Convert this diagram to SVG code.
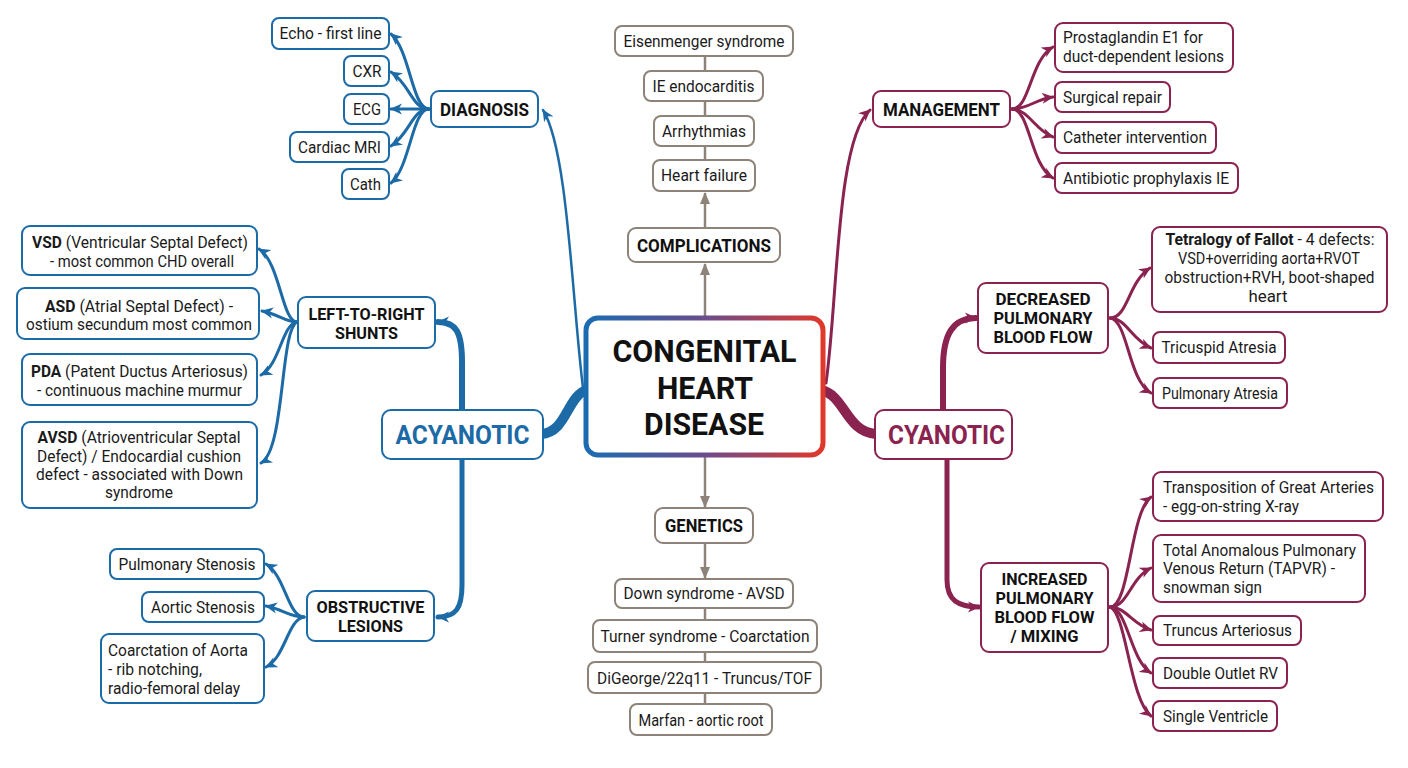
<svg xmlns="http://www.w3.org/2000/svg" width="1408" height="768" viewBox="0 0 1408 768">
<defs>
<linearGradient id="cg" x1="0" y1="0" x2="1" y2="0">
<stop offset="0" stop-color="#1b6cb2"/>
<stop offset="0.5" stop-color="#6a4c8c"/>
<stop offset="1" stop-color="#e0382a"/>
</linearGradient>
<marker id="ab" viewBox="0 0 12 12" markerWidth="12" markerHeight="12" refX="11" refY="6" orient="auto" markerUnits="userSpaceOnUse"><path d="M0,0.5 L12,6 L0,11.5 L3.5,6 z" fill="#1c6aa6"/></marker>
<marker id="am" viewBox="0 0 12 12" markerWidth="12" markerHeight="12" refX="11" refY="6" orient="auto" markerUnits="userSpaceOnUse"><path d="M0,0.5 L12,6 L0,11.5 L3.5,6 z" fill="#8a2350"/></marker>
<marker id="ag" viewBox="0 0 12 12" markerWidth="12" markerHeight="12" refX="11" refY="6" orient="auto" markerUnits="userSpaceOnUse"><path d="M0,1 L12,6 L0,11 z" fill="#8e8378"/></marker>
</defs>
<style>
text{font-family:Roboto,"Liberation Sans",sans-serif;font-size:16px;fill:#1a1a1a}
.c{text-anchor:middle}
.h{font-weight:700;font-size:18px;fill:#111}
.h2{font-weight:700;font-size:17px;fill:#111}
.bd{font-weight:700}
.big{font-weight:700;font-size:26px}
.ctr{font-weight:700;font-size:32px;fill:#111;text-anchor:middle}
.nb{fill:#fff;stroke:#1c6aa6;stroke-width:2}
.nm{fill:#fff;stroke:#8a2350;stroke-width:2}
.ng{fill:#fff;stroke:#8e8378;stroke-width:2}
.lb{fill:none;stroke:#1c6aa6;stroke-linecap:round}
.lm{fill:none;stroke:#8a2350;stroke-linecap:round}
.lg{fill:none;stroke:#8e8378;stroke-width:2.5}
</style>
<rect width="1408" height="768" fill="#fff"/>

<g id="connectors">
<!-- blue -->
<path class="lb" stroke-width="2.5" d="M583,388 C 572,300 568,150 543,110" marker-end="url(#ab)"/>
<path class="lb" stroke-width="10" d="M589,389 C 566,395 568,432 541,434"/>
<path class="lb" stroke-width="6" d="M462,412 L462,362 C 462,332 456,322 438,322" marker-end="url(#ab)"/>
<path class="lb" stroke-width="5" d="M462,458 L462,585 C 462,608 456,617 438,617" marker-end="url(#ab)"/>
<path class="lb" stroke-width="3" d="M429,109 C 412,109 410,50 391,34" marker-end="url(#ab)"/>
<path class="lb" stroke-width="3" d="M429,109 C 412,109 410,84 391,72" marker-end="url(#ab)"/>
<path class="lb" stroke-width="3" d="M429,109 L391,109" marker-end="url(#ab)"/>
<path class="lb" stroke-width="3" d="M429,109 C 412,109 410,134 391,146" marker-end="url(#ab)"/>
<path class="lb" stroke-width="3" d="M429,109 C 412,109 410,168 391,183" marker-end="url(#ab)"/>
<path class="lb" stroke-width="3" d="M297,322 C 282,322 280,262 259,249" marker-end="url(#ab)"/>
<path class="lb" stroke-width="3" d="M297,322 C 285,322 278,314 262,311" marker-end="url(#ab)"/>
<path class="lb" stroke-width="3" d="M297,322 C 282,324 280,365 261,375" marker-end="url(#ab)"/>
<path class="lb" stroke-width="3" d="M297,322 C 280,330 285,450 261,463" marker-end="url(#ab)"/>
<path class="lb" stroke-width="3" d="M304,617 C 288,617 285,575 266,564" marker-end="url(#ab)"/>
<path class="lb" stroke-width="3" d="M304,617 C 290,617 282,609 266,606" marker-end="url(#ab)"/>
<path class="lb" stroke-width="3" d="M304,617 C 288,619 285,658 266,667" marker-end="url(#ab)"/>
<!-- maroon -->
<path class="lm" stroke-width="3" d="M826,383 C 838,300 836,140 870,110" marker-end="url(#am)"/>
<path class="lm" stroke-width="10" d="M821,390 C 845,395 846,432 876,434"/>
<path class="lm" stroke-width="6" d="M943,412 L943,368 C 943,334 953,318 976,318" marker-end="url(#am)"/>
<path class="lm" stroke-width="5" d="M947,458 L947,580 C 947,600 958,607 979,607" marker-end="url(#am)"/>
<path class="lm" stroke-width="3" d="M1012,109 C 1030,109 1030,60 1053,47" marker-end="url(#am)"/>
<path class="lm" stroke-width="3" d="M1012,109 C 1028,109 1036,99 1053,97" marker-end="url(#am)"/>
<path class="lm" stroke-width="3" d="M1012,109 C 1028,109 1036,131 1053,137" marker-end="url(#am)"/>
<path class="lm" stroke-width="3" d="M1012,109 C 1030,109 1030,165 1053,178" marker-end="url(#am)"/>
<path class="lm" stroke-width="3" d="M1110,318 C 1128,318 1128,282 1150,268" marker-end="url(#am)"/>
<path class="lm" stroke-width="3" d="M1110,318 C 1126,318 1132,340 1151,348" marker-end="url(#am)"/>
<path class="lm" stroke-width="3" d="M1110,318 C 1128,320 1128,380 1151,393" marker-end="url(#am)"/>
<path class="lm" stroke-width="3" d="M1110,607 C 1130,607 1130,512 1151,497" marker-end="url(#am)"/>
<path class="lm" stroke-width="3" d="M1110,607 C 1128,607 1130,578 1151,568" marker-end="url(#am)"/>
<path class="lm" stroke-width="3" d="M1110,607 C 1126,607 1132,624 1151,630" marker-end="url(#am)"/>
<path class="lm" stroke-width="3" d="M1110,607 C 1128,609 1130,660 1151,673" marker-end="url(#am)"/>
<path class="lm" stroke-width="3" d="M1110,607 C 1126,612 1130,700 1151,716" marker-end="url(#am)"/>
<!-- gray -->
<path class="lg" d="M705,317 L705,264" marker-end="url(#ag)"/>
<path class="lg" d="M705,228 L705,193" marker-end="url(#ag)"/>
<path class="lg" d="M705,56 L705,71 M705,101 L705,116 M705,146 L705,160"/>
<path class="lg" d="M705,456 L705,507" marker-end="url(#ag)"/>
<path class="lg" d="M705,543 L705,578" marker-end="url(#ag)"/>
<path class="lg" d="M705,608 L705,620 M705,652 L705,662 M705,693 L705,704"/>
</g>

<g id="center">
<rect x="586" y="318" width="237" height="137" rx="12" fill="#fff" stroke="url(#cg)" stroke-width="5"/>
<text class="ctr" x="704.5" y="362" textLength="184" lengthAdjust="spacingAndGlyphs">CONGENITAL</text>
<text class="ctr" x="705" y="399" textLength="96" lengthAdjust="spacingAndGlyphs">HEART</text>
<text class="ctr" x="704" y="435" textLength="120" lengthAdjust="spacingAndGlyphs">DISEASE</text>
</g>

<g id="acyanotic">
<rect class="nb" x="382" y="410" width="161" height="49" rx="9"/>
<text class="c big" x="462.5" y="444" style="fill:#1c6aa6" textLength="134" lengthAdjust="spacingAndGlyphs">ACYANOTIC</text>
</g>
<g id="diagnosis">
<rect class="nb" x="431" y="91" width="107" height="36" rx="8"/>
<text class="c h" x="484.5" y="116" textLength="89" lengthAdjust="spacingAndGlyphs">DIAGNOSIS</text>
</g>
<g id="echo"><rect class="nb" x="272" y="18" width="117" height="31" rx="7"/><text class="c" x="330.5" y="39" textLength="102" lengthAdjust="spacingAndGlyphs">Echo - first line</text></g>
<g id="cxr"><rect class="nb" x="344" y="56" width="45" height="30" rx="7"/><text class="c" x="367" y="76.5" textLength="29" lengthAdjust="spacingAndGlyphs">CXR</text></g>
<g id="ecg"><rect class="nb" x="344" y="94" width="45" height="30" rx="7"/><text class="c" x="367" y="114.5" textLength="28" lengthAdjust="spacingAndGlyphs">ECG</text></g>
<g id="mri"><rect class="nb" x="290" y="132" width="99" height="30" rx="7"/><text class="c" x="339.5" y="152.5" textLength="83" lengthAdjust="spacingAndGlyphs">Cardiac MRI</text></g>
<g id="cath"><rect class="nb" x="342" y="169" width="47" height="30" rx="7"/><text class="c" x="365.5" y="189.5" textLength="31" lengthAdjust="spacingAndGlyphs">Cath</text></g>

<g id="ltr">
<rect class="nb" x="298" y="297" width="137" height="51" rx="8"/>
<text class="c h2" x="366.5" y="320" textLength="116" lengthAdjust="spacingAndGlyphs">LEFT-TO-RIGHT</text>
<text class="c h2" x="366.5" y="339" textLength="63" lengthAdjust="spacingAndGlyphs">SHUNTS</text>
</g>
<g id="vsd"><rect class="nb" x="22" y="226" width="235" height="49" rx="8"/>
<text class="c" x="140" y="248" textLength="216" lengthAdjust="spacingAndGlyphs"><tspan class="bd">VSD</tspan> (Ventricular Septal Defect)</text>
<text class="c" x="142" y="267" textLength="184" lengthAdjust="spacingAndGlyphs">- most common CHD overall</text></g>
<g id="asd"><rect class="nb" x="17" y="288" width="242" height="51" rx="8"/>
<text class="c" x="139" y="312" textLength="188" lengthAdjust="spacingAndGlyphs"><tspan class="bd">ASD</tspan> (Atrial Septal Defect) -</text>
<text class="c" x="139" y="330" textLength="226" lengthAdjust="spacingAndGlyphs">ostium secundum most common</text></g>
<g id="pda"><rect class="nb" x="22" y="354" width="235" height="51" rx="8"/>
<text class="c" x="139.5" y="377" textLength="217" lengthAdjust="spacingAndGlyphs"><tspan class="bd">PDA</tspan> (Patent Ductus Arteriosus)</text>
<text class="c" x="139.5" y="396" textLength="205" lengthAdjust="spacingAndGlyphs">- continuous machine murmur</text></g>
<g id="avsd"><rect class="nb" x="22" y="422" width="235" height="86" rx="8"/>
<text class="c" x="139" y="443" textLength="203" lengthAdjust="spacingAndGlyphs"><tspan class="bd">AVSD</tspan> (Atrioventricular Septal</text>
<text class="c" x="139" y="462" textLength="204" lengthAdjust="spacingAndGlyphs">Defect) / Endocardial cushion</text>
<text class="c" x="139.5" y="480" textLength="207" lengthAdjust="spacingAndGlyphs">defect - associated with Down</text>
<text class="c" x="139" y="498" textLength="68" lengthAdjust="spacingAndGlyphs">syndrome</text></g>

<g id="obstructive">
<rect class="nb" x="307" y="591" width="127" height="50" rx="8"/>
<text class="c h2" x="370.5" y="613" textLength="108" lengthAdjust="spacingAndGlyphs">OBSTRUCTIVE</text>
<text class="c h2" x="370.5" y="632" textLength="65" lengthAdjust="spacingAndGlyphs">LESIONS</text>
</g>
<g id="ps"><rect class="nb" x="110" y="549" width="154" height="30" rx="7"/><text class="c" x="187" y="569.5" textLength="137" lengthAdjust="spacingAndGlyphs">Pulmonary Stenosis</text></g>
<g id="as"><rect class="nb" x="142" y="592" width="122" height="30" rx="7"/><text class="c" x="203" y="612.5" textLength="104" lengthAdjust="spacingAndGlyphs">Aortic Stenosis</text></g>
<g id="coarc"><rect class="nb" x="101" y="634" width="163" height="69" rx="8"/>
<text x="108" y="656" textLength="140" lengthAdjust="spacingAndGlyphs">Coarctation of Aorta</text>
<text x="108" y="675" textLength="94" lengthAdjust="spacingAndGlyphs">- rib notching,</text>
<text x="108" y="694" textLength="132" lengthAdjust="spacingAndGlyphs">radio-femoral delay</text></g>

<g id="complications"><rect class="ng" x="628" y="228" width="152" height="34" rx="8"/><text class="c h" x="704" y="251.5" textLength="134" lengthAdjust="spacingAndGlyphs">COMPLICATIONS</text></g>
<g id="eisenmenger"><rect class="ng" x="615" y="26" width="178" height="30" rx="7"/><text class="c" x="704" y="46.5" textLength="161" lengthAdjust="spacingAndGlyphs">Eisenmenger syndrome</text></g>
<g id="ie"><rect class="ng" x="644" y="71" width="119" height="30" rx="7"/><text class="c" x="703.5" y="91.5" textLength="102" lengthAdjust="spacingAndGlyphs">IE endocarditis</text></g>
<g id="arrhythmias"><rect class="ng" x="654" y="116" width="100" height="30" rx="7"/><text class="c" x="704" y="136.5" textLength="84" lengthAdjust="spacingAndGlyphs">Arrhythmias</text></g>
<g id="hf"><rect class="ng" x="653" y="160" width="102" height="31" rx="7"/><text class="c" x="704" y="181" textLength="86" lengthAdjust="spacingAndGlyphs">Heart failure</text></g>

<g id="genetics"><rect class="ng" x="655" y="508" width="98" height="35" rx="8"/><text class="c h" x="704" y="532" textLength="78" lengthAdjust="spacingAndGlyphs">GENETICS</text></g>
<g id="down"><rect class="ng" x="615" y="579" width="178" height="29" rx="7"/><text class="c" x="704" y="599" textLength="161" lengthAdjust="spacingAndGlyphs">Down syndrome - AVSD</text></g>
<g id="turner"><rect class="ng" x="593" y="620" width="224" height="32" rx="7"/><text class="c" x="705" y="641.5" textLength="209" lengthAdjust="spacingAndGlyphs">Turner syndrome - Coarctation</text></g>
<g id="digeorge"><rect class="ng" x="588" y="662" width="233" height="31" rx="7"/><text class="c" x="704.5" y="683.5" textLength="215" lengthAdjust="spacingAndGlyphs">DiGeorge/22q11 - Truncus/TOF</text></g>
<g id="marfan"><rect class="ng" x="630" y="704" width="142" height="31" rx="7"/><text class="c" x="701" y="725.5" textLength="125" lengthAdjust="spacingAndGlyphs">Marfan - aortic root</text></g>

<g id="management"><rect class="nm" x="873" y="91" width="137" height="36" rx="8"/><text class="c h" x="941.5" y="116" textLength="117" lengthAdjust="spacingAndGlyphs">MANAGEMENT</text></g>
<g id="pge1"><rect class="nm" x="1055" y="23" width="178" height="49" rx="8"/>
<text x="1063" y="43" textLength="140" lengthAdjust="spacingAndGlyphs">Prostaglandin E1 for</text>
<text x="1063" y="62" textLength="161" lengthAdjust="spacingAndGlyphs">duct-dependent lesions</text></g>
<g id="surgical"><rect class="nm" x="1055" y="82" width="115" height="30" rx="7"/><text x="1063" y="102.5" textLength="99" lengthAdjust="spacingAndGlyphs">Surgical repair</text></g>
<g id="catheter"><rect class="nm" x="1055" y="122" width="161" height="31" rx="7"/><text x="1063" y="143" textLength="144" lengthAdjust="spacingAndGlyphs">Catheter intervention</text></g>
<g id="antibiotic"><rect class="nm" x="1055" y="163" width="183" height="30" rx="7"/><text x="1063" y="183.5" textLength="166" lengthAdjust="spacingAndGlyphs">Antibiotic prophylaxis IE</text></g>

<g id="cyanotic"><rect class="nm" x="875" y="410" width="137" height="49" rx="9"/><text class="c big" x="946.5" y="443.5" style="fill:#8a2350" textLength="117" lengthAdjust="spacingAndGlyphs">CYANOTIC</text></g>

<g id="decreased"><rect class="nm" x="978" y="283" width="130" height="70" rx="8"/>
<text class="c h2" x="1043" y="305" textLength="95" lengthAdjust="spacingAndGlyphs">DECREASED</text>
<text class="c h2" x="1043" y="324" textLength="99" lengthAdjust="spacingAndGlyphs">PULMONARY</text>
<text class="c h2" x="1043" y="343" textLength="99" lengthAdjust="spacingAndGlyphs">BLOOD FLOW</text></g>
<g id="tof"><rect class="nm" x="1152" y="227" width="235" height="85" rx="8"/>
<text class="c" x="1270" y="245" textLength="209" lengthAdjust="spacingAndGlyphs"><tspan class="bd">Tetralogy of Fallot</tspan> - 4 defects:</text>
<text class="c" x="1269" y="264" textLength="182" lengthAdjust="spacingAndGlyphs">VSD+overriding aorta+RVOT</text>
<text class="c" x="1269.5" y="283" textLength="210" lengthAdjust="spacingAndGlyphs">obstruction+RVH, boot-shaped</text>
<text class="c" x="1268" y="302" textLength="39" lengthAdjust="spacingAndGlyphs">heart</text></g>
<g id="tricuspid"><rect class="nm" x="1153" y="332" width="132" height="31" rx="7"/><text class="c" x="1219" y="353" textLength="115" lengthAdjust="spacingAndGlyphs">Tricuspid Atresia</text></g>
<g id="pulmatresia"><rect class="nm" x="1153" y="378" width="134" height="30" rx="7"/><text class="c" x="1220" y="398.5" textLength="116" lengthAdjust="spacingAndGlyphs">Pulmonary Atresia</text></g>

<g id="increased"><rect class="nm" x="981" y="563" width="127" height="89" rx="8"/>
<text class="c h2" x="1044.5" y="585" textLength="86" lengthAdjust="spacingAndGlyphs">INCREASED</text>
<text class="c h2" x="1044.5" y="604" textLength="98" lengthAdjust="spacingAndGlyphs">PULMONARY</text>
<text class="c h2" x="1044.5" y="623" textLength="100" lengthAdjust="spacingAndGlyphs">BLOOD FLOW</text>
<text class="c h2" x="1044.5" y="642" textLength="68" lengthAdjust="spacingAndGlyphs">/ MIXING</text></g>
<g id="tga"><rect class="nm" x="1153" y="472" width="230" height="49" rx="8"/>
<text x="1163" y="493" textLength="211" lengthAdjust="spacingAndGlyphs">Transposition of Great Arteries</text>
<text x="1163" y="512" textLength="136" lengthAdjust="spacingAndGlyphs">- egg-on-string X-ray</text></g>
<g id="tapvr"><rect class="nm" x="1153" y="535" width="212" height="67" rx="8"/>
<text x="1163" y="556" textLength="193" lengthAdjust="spacingAndGlyphs">Total Anomalous Pulmonary</text>
<text x="1163" y="574" textLength="172" lengthAdjust="spacingAndGlyphs">Venous Return (TAPVR) -</text>
<text x="1163" y="593" textLength="99" lengthAdjust="spacingAndGlyphs">snowman sign</text></g>
<g id="truncus"><rect class="nm" x="1153" y="616" width="148" height="29" rx="7"/><text x="1163" y="636" textLength="129" lengthAdjust="spacingAndGlyphs">Truncus Arteriosus</text></g>
<g id="dorv"><rect class="nm" x="1153" y="658" width="134" height="30" rx="7"/><text x="1163" y="678.5" textLength="115" lengthAdjust="spacingAndGlyphs">Double Outlet RV</text></g>
<g id="single"><rect class="nm" x="1153" y="701" width="124" height="30" rx="7"/><text x="1163" y="721.5" textLength="105" lengthAdjust="spacingAndGlyphs">Single Ventricle</text></g>
</svg>
